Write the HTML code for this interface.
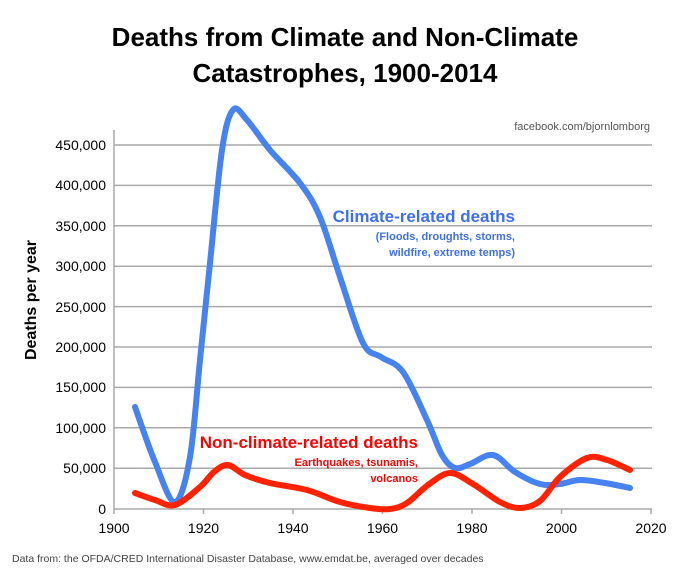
<!DOCTYPE html>
<html><head><style>
body{margin:0;background:#fff;font-family:"Liberation Sans",sans-serif}
svg text{font-family:"Liberation Sans",sans-serif}
</style></head><body>
<svg id="s" width="690" height="575" xmlns="http://www.w3.org/2000/svg">
<text x="345" y="46" text-anchor="middle" font-size="26" font-weight="bold">Deaths from Climate and Non-Climate</text>
<text x="345" y="82" text-anchor="middle" font-size="26" font-weight="bold">Catastrophes, 1900-2014</text>
<text x="650" y="130" text-anchor="end" font-size="11" fill="#555">facebook.com/bjornlomborg</text>
<g stroke="#aaa" stroke-width="1.5">
<line x1="114" y1="145" x2="652" y2="145"/><line x1="114" y1="185.4" x2="652" y2="185.4"/>
<line x1="114" y1="225.8" x2="652" y2="225.8"/><line x1="114" y1="266.2" x2="652" y2="266.2"/>
<line x1="114" y1="306.6" x2="652" y2="306.6"/><line x1="114" y1="347" x2="652" y2="347"/>
<line x1="114" y1="387.4" x2="652" y2="387.4"/><line x1="114" y1="427.8" x2="652" y2="427.8"/>
<line x1="114" y1="468.2" x2="652" y2="468.2"/><line x1="114" y1="509" x2="652" y2="509"/>
<line x1="114" y1="130" x2="114" y2="514"/>
<line x1="203.5" y1="509" x2="203.5" y2="514"/><line x1="293" y1="509" x2="293" y2="514"/>
<line x1="382.5" y1="509" x2="382.5" y2="514"/><line x1="472" y1="509" x2="472" y2="514"/>
<line x1="561.5" y1="509" x2="561.5" y2="514"/><line x1="651" y1="509" x2="651" y2="514"/>
</g>
<g font-size="14" text-anchor="end">
<text x="106" y="150">450,000</text><text x="106" y="190">400,000</text><text x="106" y="231">350,000</text>
<text x="106" y="271">300,000</text><text x="106" y="312">250,000</text><text x="106" y="352">200,000</text>
<text x="106" y="392">150,000</text><text x="106" y="433">100,000</text><text x="106" y="473">50,000</text>
<text x="106" y="514">0</text></g>
<g font-size="14" text-anchor="middle">
<text x="114" y="533">1900</text><text x="203.5" y="533">1920</text><text x="293" y="533">1940</text>
<text x="382.5" y="533">1960</text><text x="472" y="533">1980</text><text x="561.5" y="533">2000</text><text x="651" y="533">2020</text></g>
<text transform="translate(36,300) rotate(-90)" text-anchor="middle" font-size="16" font-weight="bold">Deaths per year</text>
<text x="12" y="562" font-size="10.5" fill="#444">Data from: the OFDA/CRED International Disaster Database, www.emdat.be, averaged over decades</text>
<path id="c" fill="none" stroke="#4682f0" stroke-width="6" stroke-linecap="round"/>
<path id="r" fill="none" stroke="#ff2200" stroke-width="6" stroke-linecap="round"/>
<text x="515" y="222" text-anchor="end" font-size="17" font-weight="bold" fill="#3d6ff0">Climate-related deaths</text>
<text x="515" y="240" text-anchor="end" font-size="11" font-weight="bold" fill="#3d6ff0">(Floods, droughts, storms,</text>
<text x="515" y="256" text-anchor="end" font-size="11" font-weight="bold" fill="#3d6ff0">wildfire, extreme temps)</text>
<text x="418" y="448" text-anchor="end" font-size="17" font-weight="bold" fill="#f00">Non-climate-related deaths</text>
<text x="418" y="466" text-anchor="end" font-size="11" font-weight="bold" fill="#f00">Earthquakes, tsunamis,</text>
<text x="418" y="482" text-anchor="end" font-size="11" font-weight="bold" fill="#f00">volcanos</text>
</svg>
<script>
function cr(p){var d="M"+p[0][0]+","+p[0][1];for(var i=0;i<p.length-1;i++){var a=p[i-1]||p[i],b=p[i],c=p[i+1],e=p[i+2]||c;
d+=" C"+(b[0]+(c[0]-a[0])/6)+","+(b[1]+(c[1]-a[1])/6)+" "+(c[0]-(e[0]-b[0])/6)+","+(c[1]-(e[1]-b[1])/6)+" "+c[0]+","+c[1];}return d;}
document.getElementById("c").setAttribute("d",cr([[135,407],[155,462],[175,502],[190,457],[200,360],[210,263],[222,150],[233,110],[247,120],[270,150],[300,183],[320,217],[340,277],[363,343],[381,357],[403,372],[427,420],[442,455],[455,468],[470,464],[493,455],[515,472],[540,484],[560,484],[580,480],[605,483],[630,488]]));
document.getElementById("r").setAttribute("d",cr([[135,493],[155,500],[175,505],[200,487],[214,472],[228,465],[245,475],[270,483],[307,490],[340,502],[370,508],[390,509],[407,503],[428,485],[450,473],[473,484],[500,502],[520,508],[540,501],[560,477],[587,458],[607,460],[630,470]]));
</script>
</body></html>
